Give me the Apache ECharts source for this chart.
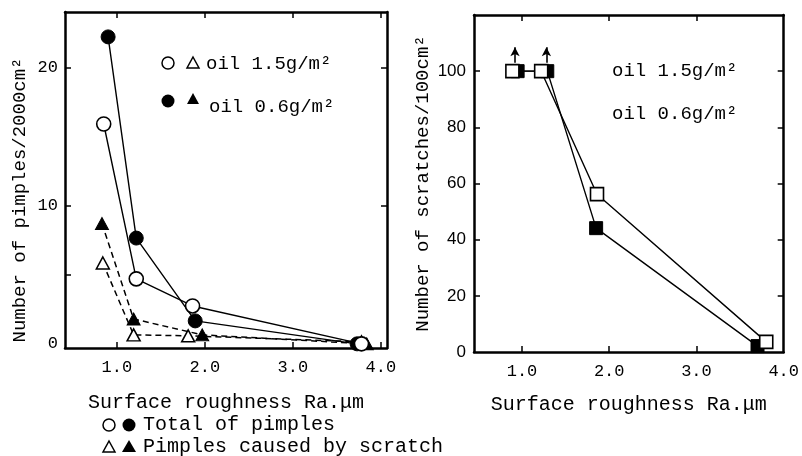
<!DOCTYPE html>
<html>
<head>
<meta charset="utf-8">
<script src="https://cdn.jsdelivr.net/npm/echarts@6/dist/echarts.min.js"></script>
<style>
html, body { margin: 0; padding: 0; background: #fff; }
#chart { width: 802px; height: 456px; }
</style>
</head>
<body>
<div id="chart"></div>
<script>
// left panel: pimples
const totalHighX = [0.85, 1.22, 1.86, 3.78]
const totalHighY = [15.9, 4.7, 2.74, 0]
const totalLowX = [0.90, 1.22, 1.89, 3.73]
const totalLowY = [22.2, 7.65, 1.66, 0]
const scratchHighX = [0.84, 1.19, 1.81, 3.78]
const scratchHighY = [5.85, 0.65, 0.58, 0.15]
const scratchLowX = [0.83, 1.19, 1.97, 3.84]
const scratchLowY = [8.7, 1.8, 0.65, 0]
// right panel: scratches
const scrHighX = [0.89, 1.22, 1.86, 3.80]
const scrHighY = [100, 100, 56.2, 3.6]
const scrLowX = [0.95, 1.29, 1.85, 3.70]
const scrLowY = [100, 100, 44.1, 2.1]
const arrowX = [0.92, 1.28]
// tick labels
const xTicks = [1, 2, 3, 4]
const leftYLabels = [0, 10, 20]
const rightYLabels = [0, 20, 40, 60, 80, 100]

const MONO = '"Liberation Mono", "DejaVu Sans Mono", monospace'
const INK = '#000'

function pts (xs, ys) {
  return xs.map((x, i) => [x, ys[i]])
}

function frameAxis (pos, grid, range, ticks, extra) {
  const ax = {
    type: 'value',
    gridIndex: grid,
    position: pos,
    min: range[0],
    max: range[1],
    splitLine: { show: false },
    axisLine: { show: true, onZero: false, lineStyle: { color: INK, width: 2.5 } },
    axisTick: { show: true, inside: true, length: 6, customValues: ticks, lineStyle: { color: INK, width: 1.5 } },
    axisLabel: { show: false }
  }
  return Object.assign(ax, extra || {})
}

const option = {
  backgroundColor: '#fff',
  animation: false,
  grid: [
    { left: 65, top: 12, width: 322, height: 336 },
    { left: 474, top: 15, width: 317, height: 337 }
  ],
  xAxis: [
    frameAxis('bottom', 0, [0.41, 4.07], xTicks, {
      axisLabel: { show: true, customValues: xTicks, color: INK, fontFamily: MONO, fontSize: 17, margin: 11, formatter: v => v.toFixed(1) },
      name: 'Surface roughness Ra.\u03bcm',
      nameLocation: 'middle',
      nameGap: 45,
      nameTextStyle: { color: INK, fontFamily: MONO, fontSize: 20 }
    }),
    frameAxis('top', 0, [0.41, 4.07], xTicks),
    frameAxis('bottom', 1, [0.45, 4.0], [1, 2, 3], {
      axisLabel: { show: true, customValues: xTicks, color: INK, fontFamily: MONO, fontSize: 17, margin: 11, formatter: v => v.toFixed(1) },
      name: 'Surface roughness Ra.\u03bcm',
      nameLocation: 'middle',
      nameGap: 43,
      nameTextStyle: { color: INK, fontFamily: MONO, fontSize: 20 }
    }),
    frameAxis('top', 1, [0.45, 4.0], [1, 2, 3])
  ],
  yAxis: [
    frameAxis('left', 0, [-0.3, 24], [5, 10, 20], {
      axisLabel: { show: true, customValues: leftYLabels, color: INK, fontFamily: MONO, fontSize: 17, margin: 7 },
      name: 'Number of pimples/2000cm\u00b2',
      nameLocation: 'middle',
      nameRotate: 90,
      nameGap: 36,
      nameTextStyle: { color: INK, fontFamily: MONO, fontSize: 19, padding: [0, 40, 0, 0] }
    }),
    frameAxis('right', 0, [-0.3, 24], [10, 20]),
    frameAxis('left', 1, [0, 120], [20, 40, 60, 80, 100], {
      axisLabel: { show: true, customValues: rightYLabels, color: INK, fontFamily: '"Liberation Sans", Arial, sans-serif', fontSize: 17, margin: 8 },
      name: 'Number of scratches/100cm\u00b2',
      nameLocation: 'middle',
      nameRotate: 90,
      nameGap: 42,
      nameTextStyle: { color: INK, fontFamily: MONO, fontSize: 19 }
    }),
    frameAxis('right', 1, [0, 120], [20, 40, 60, 80, 100])
  ],
  graphic: [
    // left panel legend
    { type: 'circle', shape: { cx: 168, cy: 63, r: 6 }, style: { fill: '#fff', stroke: INK, lineWidth: 1.5 } },
    { type: 'polygon', shape: { points: [[193, 57], [199, 68], [187, 68]] }, style: { fill: '#fff', stroke: INK, lineWidth: 1.5 } },
    { type: 'text', left: 206, top: 54, style: { text: 'oil 1.5g/m\u00b2', fill: INK, font: '19px ' + MONO } },
    { type: 'circle', shape: { cx: 168, cy: 101, r: 6.5 }, style: { fill: INK } },
    { type: 'polygon', shape: { points: [[193, 93], [199, 104], [187, 104]] }, style: { fill: INK } },
    { type: 'text', left: 209, top: 97, style: { text: 'oil 0.6g/m\u00b2', fill: INK, font: '19px ' + MONO } },
    // right panel legend
    { type: 'text', left: 612, top: 61, style: { text: 'oil 1.5g/m\u00b2', fill: INK, font: '19px ' + MONO } },
    { type: 'text', left: 612, top: 104, style: { text: 'oil 0.6g/m\u00b2', fill: INK, font: '19px ' + MONO } },
    // symbol key below left panel
    { type: 'circle', shape: { cx: 109, cy: 425, r: 6 }, style: { fill: '#fff', stroke: INK, lineWidth: 1.5 } },
    { type: 'circle', shape: { cx: 129, cy: 425, r: 6.5 }, style: { fill: INK } },
    { type: 'text', left: 143, top: 415, style: { text: 'Total of pimples', fill: INK, font: '20px ' + MONO } },
    { type: 'polygon', shape: { points: [[109, 441], [115, 452], [103, 452]] }, style: { fill: '#fff', stroke: INK, lineWidth: 1.5 } },
    { type: 'polygon', shape: { points: [[129, 440], [136, 452], [122, 452]] }, style: { fill: INK } },
    { type: 'text', left: 143, top: 437, style: { text: 'Pimples caused by scratch', fill: INK, font: '20px ' + MONO } }
  ],
  series: [
    {
      type: 'line', xAxisIndex: 0, yAxisIndex: 0,
      data: pts(scratchHighX, scratchHighY),
      symbol: 'triangle', symbolSize: [13, 12],
      lineStyle: { color: INK, width: 1.5, type: [6, 4] },
      itemStyle: { color: '#fff', borderColor: INK, borderWidth: 1.5 }
    },
    {
      type: 'line', xAxisIndex: 0, yAxisIndex: 0,
      data: pts(scratchLowX, scratchLowY),
      symbol: 'triangle', symbolSize: [13, 12],
      lineStyle: { color: INK, width: 1.5, type: [6, 4] },
      itemStyle: { color: INK, borderColor: INK, borderWidth: 1 }
    },
    {
      type: 'line', xAxisIndex: 0, yAxisIndex: 0,
      data: pts(totalLowX, totalLowY),
      symbol: 'circle', symbolSize: 14,
      lineStyle: { color: INK, width: 1.4 },
      itemStyle: { color: INK, borderColor: INK, borderWidth: 1 }
    },
    {
      type: 'line', xAxisIndex: 0, yAxisIndex: 0,
      data: pts(totalHighX, totalHighY),
      symbol: 'circle', symbolSize: 14,
      lineStyle: { color: INK, width: 1.4 },
      itemStyle: { color: '#fff', borderColor: INK, borderWidth: 1.6 }
    },
    {
      type: 'line', xAxisIndex: 2, yAxisIndex: 2,
      data: pts(scrLowX, scrLowY),
      symbol: 'rect', symbolSize: 13,
      lineStyle: { color: INK, width: 1.4 },
      itemStyle: { color: INK, borderColor: INK, borderWidth: 1 },
      markLine: {
        silent: true,
        symbol: ['none', 'arrow'],
        symbolSize: [7, 9],
        label: { show: false },
        lineStyle: { color: INK, width: 1.6, type: 'solid' },
        data: arrowX.map(x => [{ coord: [x, 103] }, { coord: [x, 108.5] }])
      }
    },
    {
      type: 'line', xAxisIndex: 2, yAxisIndex: 2,
      data: pts(scrHighX, scrHighY),
      symbol: 'rect', symbolSize: 13,
      lineStyle: { color: INK, width: 1.4 },
      itemStyle: { color: '#fff', borderColor: INK, borderWidth: 1.6 }
    }
  ]
}

const chart = echarts.init(document.getElementById('chart'))
chart.setOption(option)
</script>
</body>
</html>
